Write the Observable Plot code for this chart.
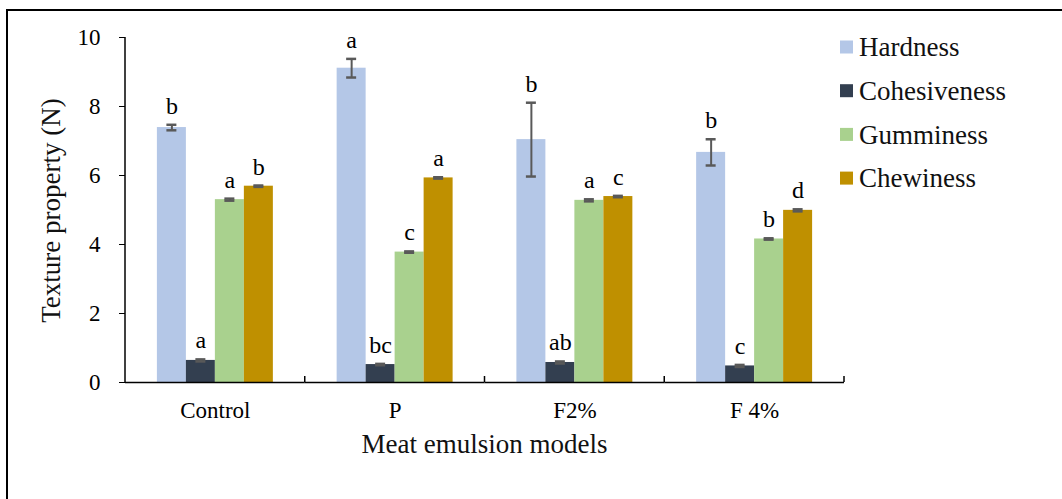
<!DOCTYPE html>
<html>
<head>
<meta charset="utf-8">
<script src="https://cdn.jsdelivr.net/npm/d3@7"></script>
<script src="https://cdn.jsdelivr.net/npm/@observablehq/plot@0.6"></script>
<style>
  html, body { margin: 0; padding: 0; background: #fff; }
  #wrap { position: relative; width: 1062px; height: 499px; overflow: hidden; }
  #border { position: absolute; left: 6px; top: 9px; width: 1100px; height: 600px; border-top: 2.5px solid #000; border-left: 2.5px solid #000; box-sizing: border-box; }
  #chart { position: absolute; left: 0; top: 0; }
</style>
</head>
<body>
<div id="wrap">
  <div id="border"></div>
  <div id="chart"></div>
</div>
<script>
const categories = ["Control", "P", "F2%", "F 4%"];
const series = ["Hardness", "Cohesiveness", "Gumminess", "Chewiness"];
const colors = ["#b4c7e7", "#333f50", "#a9d18e", "#bf9000"];

const hardness = [7.39, 9.11, 7.04, 6.67];
const hardnessErr = [0.08, 0.27, 1.07, 0.38];
const hardnessLetters = ["b", "a", "b", "b"];

const cohesiveness = [0.64, 0.52, 0.58, 0.48];
const cohesivenessErr = [0.03, 0.02, 0.03, 0.03];
const cohesivenessLetters = ["a", "bc", "ab", "c"];

const gumminess = [5.30, 3.78, 5.28, 4.16];
const gumminessErr = [0.03, 0.02, 0.03, 0.02];
const gumminessLetters = ["a", "c", "a", "b"];

const chewiness = [5.69, 5.93, 5.39, 4.99];
const chewinessErr = [0.02, 0.02, 0.02, 0.03];
const chewinessLetters = ["b", "a", "c", "d"];

const yTicks = [0, 2, 4, 6, 8, 10];

const seriesValues = [hardness, cohesiveness, gumminess, chewiness];
const seriesErrs = [hardnessErr, cohesivenessErr, gumminessErr, chewinessErr];
const seriesLetters = [hardnessLetters, cohesivenessLetters, gumminessLetters, chewinessLetters];

const table = [];
categories.forEach((c, i) => {
  series.forEach((s, j) => {
    const v = seriesValues[j][i], e = seriesErrs[j][i];
    table.push({category: c, series: s, value: v, err: e, lo: v - e, hi: v + e, letter: seriesLetters[j][i]});
  });
});

const FONT = "'Liberation Serif', serif";

const plot = Plot.plot({
  width: 1062,
  height: 499,
  marginTop: 37,
  marginBottom: 117,
  marginLeft: 125,
  marginRight: 218,
  style: {fontFamily: FONT, fontSize: "23px", color: "#000", background: "transparent"},
  fx: {domain: categories, padding: 0, round: false, label: null, tickSize: 0, tickPadding: 19},
  x: {domain: series, paddingInner: 0, paddingOuter: 1.1, round: false, axis: null},
  y: {domain: [0, 10], ticks: yTicks, tickSize: 6, tickPadding: 19, label: null},
  color: {domain: series, range: colors},
  marks: [
    Plot.barY(table, {fx: "category", x: "series", y: "value", fill: "series"}),
    Plot.ruleX(table, {fx: "category", x: "series", y1: "lo", y2: "hi", stroke: "#595959", strokeWidth: 2}),
    Plot.tickY(table, {fx: "category", x: "series", y: "lo", stroke: "#595959", strokeWidth: 2.5, insetLeft: 9.5, insetRight: 9.5}),
    Plot.tickY(table, {fx: "category", x: "series", y: "hi", stroke: "#595959", strokeWidth: 2.5, insetLeft: 9.5, insetRight: 9.5}),
    Plot.text(table, {fx: "category", x: "series", y: "hi", text: "letter", dy: -11, lineAnchor: "bottom", fontSize: 24, fill: "#000"}),
    Plot.ruleY([0], {stroke: "#000", strokeWidth: 1.5})
  ]
});
document.getElementById("chart").appendChild(plot);

// axis line and category boundary ticks, from the plot's own scales
const fxs = plot.scale("fx");
const ys = plot.scale("y");
const fxScale = d3.scaleBand().domain(fxs.domain).range(fxs.range).paddingInner(fxs.paddingInner ?? 0).paddingOuter(fxs.paddingOuter ?? 0).align(fxs.align ?? 0.5);
const yScale = d3.scaleLinear().domain(ys.domain).range(ys.range);
const svg = d3.select(plot);
const x0 = fxScale(categories[0]);
svg.append("line").attr("x1", x0).attr("x2", x0).attr("y1", yScale(0)).attr("y2", yScale(10))
  .attr("stroke", "#000").attr("stroke-width", 1.5);
categories.forEach(c => {
  const xb = fxScale(c) + fxScale.bandwidth();
  svg.append("line").attr("x1", xb).attr("x2", xb).attr("y1", yScale(0)).attr("y2", yScale(0) - 6)
    .attr("stroke", "#000").attr("stroke-width", 1.5);
});
const xMid = (fxs.range[0] + fxs.range[1]) / 2;
svg.append("text").attr("x", xMid).attr("y", 453).attr("text-anchor", "middle")
  .attr("font-family", FONT).attr("font-size", 27).attr("fill", "#111").text("Meat emulsion models");
svg.append("text").attr("transform", `translate(60,${(yScale(0) + yScale(10)) / 2 + 1}) rotate(-90)`)
  .attr("text-anchor", "middle").attr("font-family", FONT).attr("font-size", 27).attr("fill", "#111").text("Texture property (N)");

// legend (inside the SVG, keyed by the color scale)
const cs = plot.scale("color");
const legendG = svg.append("g").attr("font-family", FONT).attr("font-size", 27).attr("fill", "#111").attr("text-anchor", "start");
cs.domain.forEach((s, j) => {
  const cy = 47 + j * 43.7;
  legendG.append("rect").attr("x", 840).attr("y", cy - 6.5).attr("width", 13).attr("height", 13).attr("fill", cs.range[j]);
  legendG.append("text").attr("x", 859).attr("y", cy).attr("dy", "0.34em").attr("text-anchor", "start").text(s);
});
</script>
</body>
</html>
